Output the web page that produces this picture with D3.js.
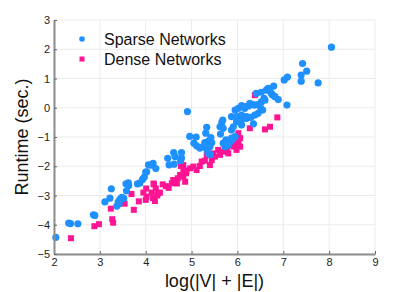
<!DOCTYPE html>
<html>
<head>
<meta charset="utf-8">
<script src="https://cdn.jsdelivr.net/npm/d3@7"></script>
<style>
  body { margin: 0; background: #fff; }
  svg text { font-family: "Liberation Sans", Arial, sans-serif; }
</style>
</head>
<body>
<div id="chart-area"></div>
<script>
const WIDTH = 415;
const HEIGHT = 292;
const margin = { left: 54, right: 40, top: 20, bottom: 38 };

// [log(|V|+|E|), runtime]
const sparse = [
  [2.04,-4.43],[2.32,-3.94],[2.36,-3.96],[2.52,-3.97],[2.86,-3.66],[2.89,-3.68],
  [3.11,-3.22],[3.22,-3.09],[3.25,-2.77],[3.37,-3.36],[3.40,-3.22],[3.44,-3.12],
  [3.48,-3.06],[3.52,-3.1],[3.42,-3.28],[3.57,-2.6],[3.62,-2.57],[3.63,-2.66],
  [3.58,-2.84],[3.82,-2.6],[3.87,-2.58],[3.93,-2.45],[3.97,-2.37],[4.0,-2.2],
  [4.02,-2.19],[4.06,-1.95],[4.11,-1.96],[4.16,-1.9],[4.22,-2.08],[4.48,-1.73],
  [4.51,-1.95],[4.61,-1.53],[4.62,-1.93],[4.64,-1.67],[4.76,-1.81],[4.78,-1.53],
  [4.78,-1.72],[4.91,-0.13],[4.96,-0.98],[5.1,-1.0],[5.05,-1.21],[5.11,-1.3],
  [5.18,-1.38],[5.25,-1.33],[5.29,-1.19],[5.31,-0.87],[5.33,-0.67],[5.33,-1.42],
  [5.36,-1.15],[5.36,-1.56],[5.41,-1.6],[5.42,-1.02],[5.44,-1.19],[5.4,-1.33],
  [5.62,-0.65],[5.66,-0.5],[5.68,-0.42],[5.69,-0.7],[5.63,-0.9],[5.69,-1.21],
  [5.73,-1.33],[5.77,-1.27],[5.75,-1.1],[5.84,-1.16],[5.9,-1.08],[5.95,-0.99],
  [5.87,-0.76],[5.91,-0.65],[5.98,-0.48],[6.06,-0.3],[6.09,-0.59],[6.2,-0.36],
  [5.87,-1.04],[5.8,-1.27],[5.87,-0.3],[5.95,-0.08],[5.98,-0.3],[6.02,-0.02],
  [6.09,0.07],[6.09,-0.25],[6.16,-0.02],[6.16,0.04],[6.2,-0.3],[6.09,-0.42],
  [6.27,0.09],[6.24,0.06],[6.27,0.15],[6.35,0.1],[6.35,-0.55],[6.38,-0.25],
  [6.45,-0.19],[6.29,-0.33],[6.38,0.09],[6.45,0.11],[6.51,-0.02],[6.55,-0.08],
  [6.52,0.2],[6.58,0.32],[6.41,0.49],[6.52,0.53],[6.63,0.6],[6.67,0.66],
  [6.74,0.49],[6.82,0.38],[6.89,0.28],[6.79,0.74],[6.7,0.58],[6.6,0.26],
  [6.77,0.43],[7.02,0.95],[7.09,1.05],[7.08,0.09],[7.39,1.12],[7.39,0.91],
  [7.42,1.51],[7.51,1.25],[7.76,0.85],[8.05,2.07]
];

const dense = [
  [2.37,-4.46],[2.88,-4.05],[2.98,-3.98],[3.24,-3.45],[3.27,-3.81],[3.29,-3.93],
  [3.54,-3.28],[3.69,-2.95],[3.74,-3.49],[3.85,-3.2],[3.95,-2.9],[4.01,-2.76],
  [4.02,-3.04],[4.0,-3.15],[4.13,-2.9],[4.16,-3.09],[4.18,-2.62],[4.22,-2.76],
  [4.25,-3.0],[4.27,-2.93],[4.2,-3.19],[4.31,-2.9],[4.17,-2.59],[4.37,-2.62],
  [4.44,-2.68],[4.5,-2.74],[4.57,-2.58],[4.6,-2.47],[4.62,-2.53],[4.68,-2.59],
  [4.7,-2.41],[4.75,-2.3],[4.78,-2.3],[4.82,-2.36],[4.82,-2.13],[4.86,-2.53],
  [4.88,-2.24],[4.77,-1.99],[4.82,-1.96],[4.89,-2.15],[4.97,-2.07],[5.04,-2.01],
  [5.11,-2.13],[5.18,-1.99],[5.22,-1.84],[5.29,-1.81],[5.33,-1.62],[5.4,-1.96],
  [5.44,-1.79],[5.47,-1.56],[5.51,-1.67],[5.58,-1.44],[5.62,-1.61],[5.69,-1.5],
  [5.77,-1.39],[5.8,-1.56],[5.87,-1.27],[5.91,-1.33],[5.95,-1.16],[6.02,-1.16],
  [6.06,-1.33],[6.02,-1.27],[5.98,-1.44],[6.06,-1.04],[6.02,-0.87],[6.27,-0.7],
  [6.38,0.43],[6.6,-0.74],[6.71,-0.65],[6.87,-0.33]
];

const xTicks = [2, 3, 4, 5, 6, 7, 8, 9];
const yTicks = [-5, -4, -3, -2, -1, 0, 1, 2, 3];
const seriesNames = ["Sparse Networks", "Dense Networks"];
const BLUE = "#1e90ff";
const PINK = "#ff1493";

const w = WIDTH - margin.left - margin.right;
const h = HEIGHT - margin.top - margin.bottom;

const svg = d3.select("#chart-area").append("svg")
  .attr("width", WIDTH).attr("height", HEIGHT);
const g = svg.append("g").attr("transform", `translate(${margin.left},${margin.top})`);

const x = d3.scaleLinear().domain([2, 9]).range([0, w]);
const y = d3.scaleLinear().domain([-5, 3]).range([h, 0]);

// grid
g.append("g").selectAll("line").data(xTicks).enter().append("line")
  .attr("x1", d => x(d)).attr("x2", d => x(d))
  .attr("y1", 0).attr("y2", h)
  .attr("stroke", "#ebebeb").attr("stroke-width", 1);
g.append("g").selectAll("line").data(yTicks).enter().append("line")
  .attr("x1", 0).attr("x2", w)
  .attr("y1", d => y(d)).attr("y2", d => y(d))
  .attr("stroke", "#ebebeb").attr("stroke-width", 1);

// points: dense first, sparse drawn on top
g.append("g").selectAll("rect").data(dense).enter().append("rect")
  .attr("x", d => x(d[0]) - 3).attr("y", d => y(d[1]) - 3)
  .attr("width", 6).attr("height", 6)
  .attr("fill", PINK);
g.append("g").selectAll("circle").data(sparse).enter().append("circle")
  .attr("cx", d => x(d[0])).attr("cy", d => y(d[1]))
  .attr("r", 3.6).attr("fill", BLUE);

// axes
const xAxis = g.append("g").attr("transform", `translate(0,${h})`)
  .call(d3.axisBottom(x).tickValues(xTicks).tickFormat(d3.format("d")).tickSizeInner(-3).tickSizeOuter(0).tickPadding(4));
const yAxis = g.append("g")
  .call(d3.axisLeft(y).tickValues(yTicks).tickFormat(d3.format("d")).tickSizeInner(-3).tickSizeOuter(0).tickPadding(4));
[xAxis, yAxis].forEach(a => {
  a.select(".domain").attr("stroke", "#8c8c8c").attr("stroke-width", 2);
  a.selectAll(".tick line").attr("stroke", "#666");
  a.selectAll("text").attr("font-size", "11px").attr("fill", "#222");
});

// axis labels
g.append("text")
  .attr("x", w / 2).attr("y", h + 33)
  .attr("font-size", "18px").attr("text-anchor", "middle").attr("fill", "#111")
  .text("log(|V| + |E|)");
g.append("text")
  .attr("transform", "rotate(-90)")
  .attr("x", -h / 2).attr("y", -26)
  .attr("font-size", "18px").attr("text-anchor", "middle").attr("fill", "#111")
  .text("Runtime (sec.)");

// legend
const legend = svg.append("g").attr("transform", "translate(82,39)");
legend.append("circle").attr("cx", 0).attr("cy", 0).attr("r", 2.8).attr("fill", BLUE);
legend.append("rect").attr("x", -2.5).attr("y", 17.5).attr("width", 5).attr("height", 5).attr("fill", PINK);
legend.selectAll("text").data(seriesNames).enter().append("text")
  .attr("x", 22).attr("y", (d, i) => i * 20 + 6)
  .attr("font-size", "16px").attr("fill", "#111")
  .text(d => d);
</script>
</body>
</html>
